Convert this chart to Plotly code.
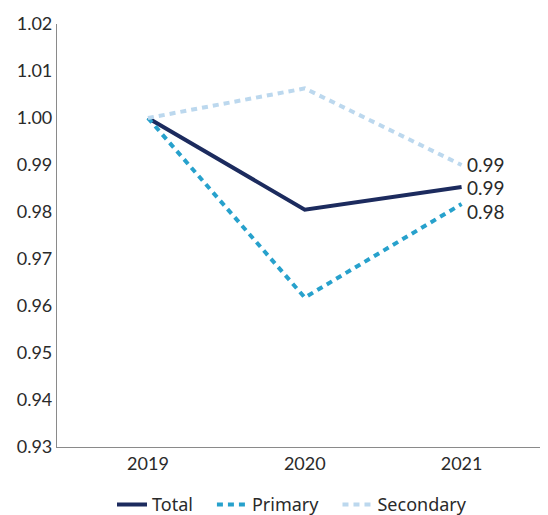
import plotly.graph_objects as go

years = ["2019", "2020", "2021"]
total = [1.000, 0.9805, 0.9853]
primary = [1.000, 0.9618, 0.9817]
secondary = [1.000, 1.0063, 0.9900]
end_labels = {"Total": "0.99", "Primary": "0.98", "Secondary": "0.99"}
y_ticks = [0.93, 0.94, 0.95, 0.96, 0.97, 0.98, 0.99, 1.00, 1.01, 1.02]

xs = list(range(len(years)))

# name, values, colour, dash, vertical nudge of the end label (px)
series = [
    ("Total", total, "#1c2b5e", "solid", 0),
    ("Primary", primary, "#27a1cc", "6px,5px", -7),
    ("Secondary", secondary, "#bcd8ee", "6px,5px", 1),
]

fig = go.Figure()
for name, vals, color, dash, nudge in series:
    fig.add_trace(go.Scatter(
        x=xs, y=vals, name=name + "   ", mode="lines",
        line=dict(color=color, width=4, dash=dash),
    ))
    fig.add_annotation(
        x=xs[-1], y=vals[-1], text=end_labels[name], showarrow=False,
        xanchor="left", yanchor="middle", xshift=3, yshift=nudge,
        font=dict(family="Lato", size=19, color="#2a2a2a"),
    )

fig.update_layout(
    width=548, height=515,
    margin=dict(l=57, r=8, t=24, b=68, autoexpand=False),
    paper_bgcolor="white", plot_bgcolor="white",
    showlegend=True,
    legend=dict(
        orientation="h", x=0.5, xanchor="center",
        yref="container", y=0.02, yanchor="middle",
        font=dict(family="Noto Sans", size=18, color="#2a2a2a"),
        itemwidth=30,
    ),
    xaxis=dict(
        range=[-0.58, 2.5], tickvals=xs, ticktext=years,
        showline=True, linecolor="#8a8a8a", linewidth=1.2,
        showgrid=False, zeroline=False, ticks="",
        tickfont=dict(family="Lato", size=18, color="#2a2a2a"),
    ),
    yaxis=dict(
        range=[0.93, 1.02], tickvals=y_ticks,
        tickformat=".2f",
        showline=True, linecolor="#8a8a8a", linewidth=1.2,
        showgrid=False, zeroline=False, ticks="",
        tickfont=dict(family="Lato", size=18, color="#2a2a2a"),
    ),
)

fig.write_html("out.html")
